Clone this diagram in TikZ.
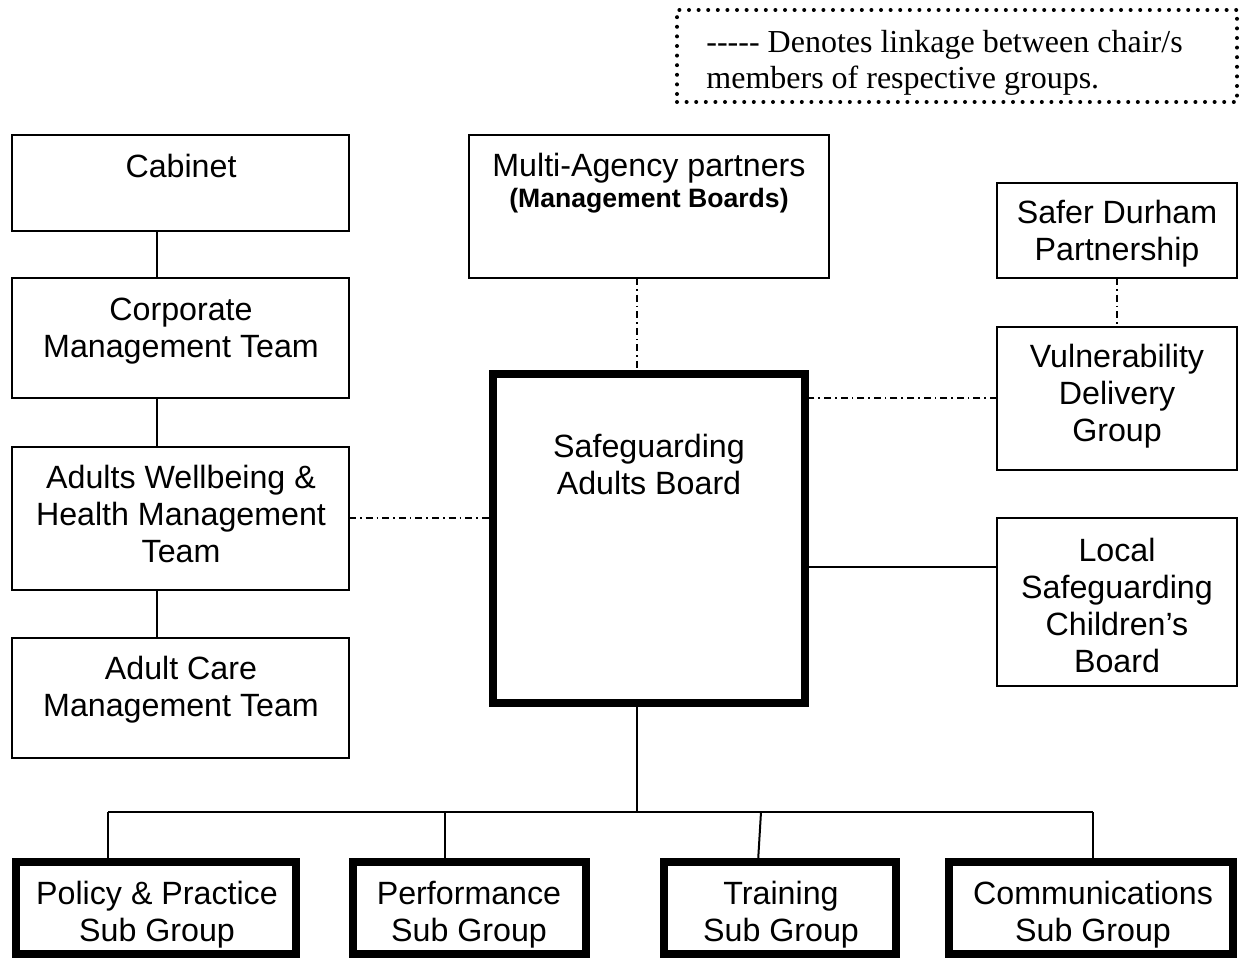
\documentclass[tikz,border=0pt]{standalone}
\usepackage{fontspec}
\setmainfont{Liberation Sans}
\newfontfamily\legendfont{Liberation Serif}
\usetikzlibrary{calc}
\begin{document}
\begin{tikzpicture}[x=0.5pt,y=-0.5pt,
  thinbox/.style={draw,line width=1pt,inner sep=0pt,outer sep=0pt},
  thickbox/.style={draw,line width=4pt,inner sep=0pt,outer sep=0pt},
  label/.style={align=center,inner sep=0pt,font=\fontsize{16.1}{18.5}\selectfont},
  link/.style={line width=1pt},
  chairlink/.style={line width=1pt,dash pattern=on 3.5pt off 2pt on 0.8pt off 2pt},
  legendbox/.style={draw,line width=2pt,line cap=round,dash pattern=on 0pt off 4.8pt}
]
\useasboundingbox (0,0) rectangle (1241,961);
\fill[white] (0,0) rectangle (1241,961);

% legend
\node[legendbox,minimum width=280pt,minimum height=46pt] (leg) at (957,56) {};
\node[anchor=west,align=left,inner sep=0pt,font=\legendfont\fontsize{16}{18}\selectfont] (legt) at (706,63)
  {----- Denotes linkage between chair/s\\members of respective groups.};

% left column
\node[thinbox,minimum width=168.5pt,minimum height=48pt] (cab) at (180.5,183) {};
\node[label] (cabt) at (181,166) {Cabinet};
\node[thinbox,minimum width=168.5pt,minimum height=60pt] (cmt) at (180.5,338) {};
\node[label] (cmtt) at (181,331) {Corporate\\Management Team};
\node[thinbox,minimum width=168.5pt,minimum height=71.5pt] (awb) at (180.5,518.5) {};
\node[label] (awbt) at (181,514) {Adults Wellbeing \&\\Health Management\\Team};
\node[thinbox,minimum width=168.5pt,minimum height=60pt] (acm) at (180.5,698) {};
\node[label] (acmt) at (181,690) {Adult Care\\Management Team};

% centre
\node[thinbox,minimum width=180pt,minimum height=71.5pt] (mab) at (649,206.5) {};
\node[label] (mabt) at (649,183) {Multi-Agency partners\\[-3pt]{\fontsize{13.3}{15}\selectfont\bfseries (Management Boards)}};
\node[thickbox,minimum width=156pt,minimum height=164.5pt] (sab) at (649,538.5) {};
\node[label] (sabt) at (649,464) {Safeguarding\\Adults Board};

% right column
\node[thinbox,minimum width=120pt,minimum height=47.5pt] (sdp) at (1117,230.5) {};
\node[label] (sdpt) at (1117,234) {Safer Durham\\Partnership};
\node[thinbox,minimum width=120pt,minimum height=71.5pt] (vdg) at (1117,398.5) {};
\node[label] (vdgt) at (1117,396) {Vulnerability\\Delivery\\Group};
\node[thinbox,minimum width=120pt,minimum height=84pt] (lscb) at (1117,602) {};
\node[label] (lscbt) at (1117,605) {Local\\Safeguarding\\Children’s\\Board};

% sub groups
\node[thickbox,minimum width=140pt,minimum height=46pt] (pol) at (156,908) {};
\node[label] (polt) at (157,915) {Policy \& Practice\\Sub Group};
\node[thickbox,minimum width=116.5pt,minimum height=46pt] (perf) at (469.5,908) {};
\node[label] (perft) at (469,915) {Performance\\Sub Group};
\node[thickbox,minimum width=116pt,minimum height=46pt] (trn) at (780,908) {};
\node[label] (trnt) at (781,915) {Training\\Sub Group};
\node[thickbox,minimum width=142pt,minimum height=46pt] (com) at (1091,908) {};
\node[label] (comt) at (1093,915) {Communications\\Sub Group};

% coordinates
\coordinate (lx) at (157,0);
\coordinate (ly) at (0,567);
\coordinate (spine) at (637,812);
\coordinate (b1) at (108,812);
\coordinate (b2) at (445,812);
\coordinate (b3) at (761,812);
\coordinate (b3e) at (758,858);
\coordinate (b4) at (1093,812);

% solid links
\draw[link] (lx |- cab.south) -- (lx |- cmt.north);
\draw[link] (lx |- cmt.south) -- (lx |- awb.north);
\draw[link] (lx |- awb.south) -- (lx |- acm.north);
\draw[link] (sab.east |- ly) -- (lscb.west |- ly);
\draw[link] (spine |- sab.south) -- (spine);
\draw[link] (b1) -- (b4);
\draw[link] (b1) -- (b1 |- pol.north);
\draw[link] (b2) -- (b2 |- perf.north);
\draw[link] (b3) -- (b3e |- trn.north);
\draw[link] (b4) -- (b4 |- com.north);

% chair linkage
\draw[chairlink] (awb.east) -- (awb.east -| sab.west);
\draw[chairlink] (spine |- mab.south) -- (spine |- sab.north);
\draw[chairlink] (vdg.west) -- (vdg.west -| sab.east);
\draw[chairlink] (sdp.south) -- (vdg.north);
\end{tikzpicture}
\end{document}
